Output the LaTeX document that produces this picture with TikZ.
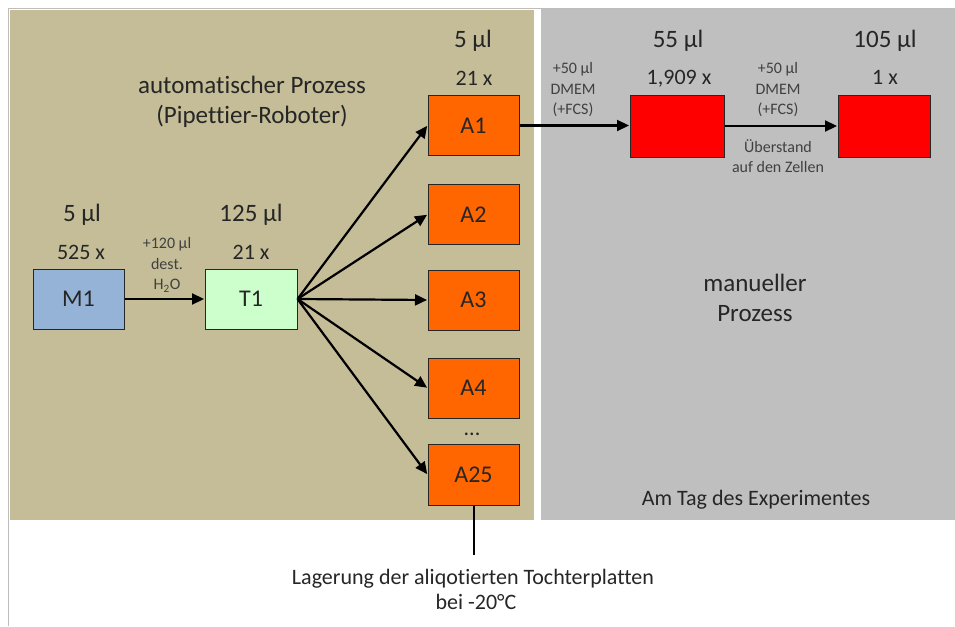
\documentclass[tikz,border=0pt]{standalone}
\usepackage{fontspec}
\setmainfont{Carlito}[Ligatures=NoCommon]
\usetikzlibrary{arrows.meta}

\definecolor{tanbg}{HTML}{C4BD97}
\definecolor{panelgray}{HTML}{BFBFBF}
\definecolor{framegray}{HTML}{BDBDBD}
\definecolor{boxblue}{HTML}{95B3D7}
\definecolor{boxgreen}{HTML}{CCFFCC}
\definecolor{boxorange}{HTML}{FF6600}
\definecolor{boxred}{HTML}{FF0000}
\definecolor{boxline}{HTML}{262626}
\definecolor{txt}{HTML}{262626}
\definecolor{txtsmall}{HTML}{404040}

\tikzset{
  plate/.style={draw=boxline, line width=1pt, minimum width=91pt, minimum height=60pt,
    inner sep=0pt, text=txt, font=\fontsize{24}{28}\selectfont},
  heading/.style={inner sep=0pt, text=txt, text height=18pt, text depth=4pt,
    font=\fontsize{22}{26}\selectfont},
  big/.style={heading, font=\fontsize{25}{29}\selectfont},
  note/.style={inner sep=0pt, align=center, text=txtsmall, font=\fontsize{16}{20.5}\selectfont},
  flow/.style={line width=2.2pt, draw=black, -{Triangle[length=12pt,width=11pt]}, shorten >=0.5pt},
}

\begin{document}
\begin{tikzpicture}[x=1pt, y=-1pt]
\useasboundingbox (0,0) rectangle (955,626);
\fill[white] (0,0) rectangle (955,626);

% background panels
\fill[tanbg] (10,10) rectangle (534,520);
\fill[panelgray] (541,9) rectangle (955,520);
\draw[framegray, line width=1.5pt] (8.5,626) -- (8.5,8.5) -- (955,8.5);

% panel titles
\node[big] (autoA) at (252,86) {automatischer Prozess};
\node[big] (autoB) at (252,116) {(Pipettier-Roboter)};
\node[big] (manA) at (755,284) {manueller};
\node[big] (manB) at (755,314) {Prozess};
\node[heading] (tag) at (756,498) {Am Tag des Experimentes};

% plates
\node[plate, fill=boxblue] (M1) at (78.5,299) {M1};
\node[plate, fill=boxgreen, minimum width=92pt] (T1) at (251,299) {T1};
\node[plate, fill=boxorange] (A1) at (473.5,125.5) {A1};
\node[plate, fill=boxorange] (A2) at (473.5,214.5) {A2};
\node[plate, fill=boxorange] (A3) at (473.5,300) {A3};
\node[plate, fill=boxorange] (A4) at (473.5,388) {A4};
\node[plate, fill=boxorange, minimum height=61pt] (A25) at (473.5,474.5) {A25};
\node[plate, fill=boxred, minimum width=94pt, minimum height=62pt] (R1) at (677,126) {};
\node[plate, fill=boxred, minimum width=92pt, minimum height=62pt] (R2) at (884,126) {};

% volumes and dilutions
\node[big] (vM1) at (82,214) {5 µl};
\node[heading] (dM1) at (81,252) {525 x};
\node[big] (vT1) at (251,214) {125 µl};
\node[heading] (dT1) at (251,252) {21 x};
\node[big] (vA) at (473,41) {5 µl};
\node[heading] (dA) at (474,78) {21 x};
\node[big] (vR1) at (678,41) {55 µl};
\node[heading] (dR1) at (679,77) {1,909 x};
\node[big] (vR2) at (885,41) {105 µl};
\node[heading] (dR2) at (885,77) {1 x};

\node[heading] (dots) at (472,428) {...};

% additions along the arrows
\node[note] (addW) at (167,265) {+120 µl\\dest.\\H\textsubscript{2}O};
\node[note] (addM1) at (573,90) {+50 µl\\DMEM\\(+FCS)};
\node[note] (addM2) at (778,90) {+50 µl\\DMEM\\(+FCS)};
\node[note] (sup) at (778,156) {Überstand\\auf den Zellen};

% transfers
\draw[flow] (M1.east) -- (T1.west);
\foreach \p in {A1,A2,A3,A4,A25}
  \draw[flow] (T1.east) -- (\p.west);
\draw[flow] (A1.east) -- (A1.east -| R1.west);
\draw[flow] (R1.east) -- (R2.west);

% storage
\coordinate (store) at (474,555);
\draw[line width=2pt, black] (A25.south -| store) -- (store);
\node[heading] (storeA) at (473,577) {Lagerung der aliqotierten Tochterplatten};
\node[heading] (storeB) at (476,602) {bei -20°C};
\end{tikzpicture}
\end{document}
